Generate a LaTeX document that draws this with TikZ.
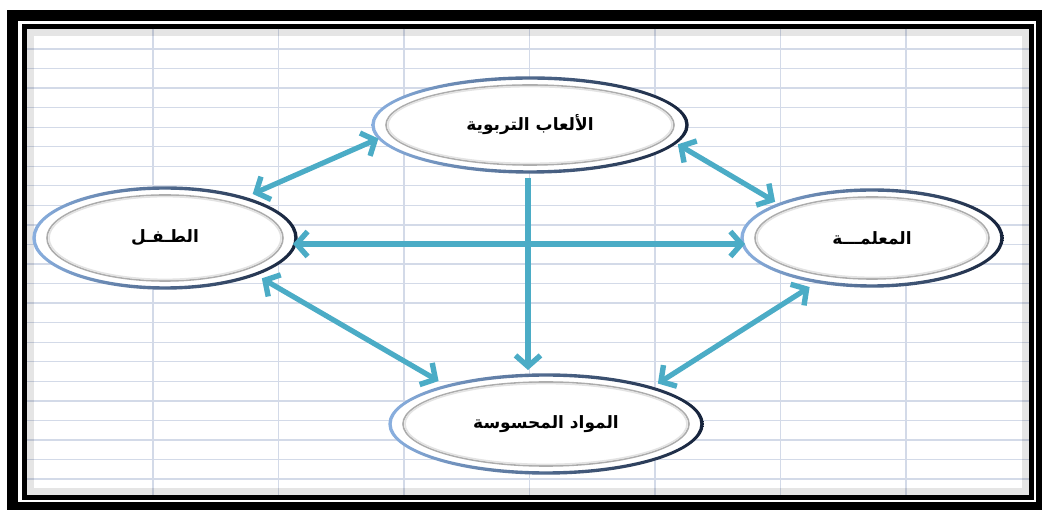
\documentclass[tikz,border=0pt]{standalone}
\usepackage{fontspec}
\usetikzlibrary{arrows.meta,shapes.geometric}
\newfontfamily\arabicfont[Script=Arabic]{DejaVu Sans}
\TeXXeTstate=1
\definecolor{arrowc}{HTML}{4BACC6}
\definecolor{gridc}{HTML}{D3DAE8}
\definecolor{ringL}{HTML}{8AB0E0}
\definecolor{ringM}{HTML}{4F7FBF}
\definecolor{ringR}{HTML}{15223A}
\tikzset{
  oval/.style={ellipse, fill=white, draw=none, inner sep=0pt, outer sep=0pt,
    font=\arabicfont\bfseries\fontsize{17}{20}\selectfont},
  tipb/.tip={Straight Barb[length=11pt,width=25pt,line width=5.4pt]},
  arr/.style={draw=arrowc, line width=5.2pt, tipb-tipb},
  arrone/.style={draw=arrowc, line width=5.2pt, -tipb},
  gridline/.style={draw=gridc, line width=1.3pt}
}
\newcommand\myoval[6]{%
  \node[oval, minimum width={2*#4pt}, minimum height={2*#5pt}] (#1) at (#2,#3) {\raisebox{-3pt}{#6}};
  \begin{scope}[even odd rule]
    \clip (#2,#3) ellipse[x radius=#4+1.7, y radius=#5+1.7]
          (#2,#3) ellipse[x radius=#4-1.7, y radius=#5-1.7];
    \shade[left color=ringL, middle color=ringM, right color=ringR]
      (#2-#4-3,#3-#5-3) rectangle (#2+#4+3,#3+#5+3);
  \end{scope}
  \draw[gray!65, line width=1.6pt] (#2,#3) ellipse[x radius=#4-13, y radius=#5-7];
  \draw[gray!22, line width=1.6pt] (#2,#3) ellipse[x radius=#4-15, y radius=#5-8.6];
}
\begin{document}
\begin{tikzpicture}[x=1pt,y=-1pt]
\useasboundingbox (0,0) rectangle (1042,510);
\fill[white] (0,0) rectangle (1042,510);
% frame
\fill[black] (7,10) rectangle (1042,510);
\fill[white] (18,21) rectangle (1036,502);
\fill[black] (22,24) rectangle (1034,500);
\fill[white] (27,29) rectangle (1029,495);
% grid
\foreach \gx in {153,278.5,404,529.5,655,780.5,906}
  \draw[gridline] (\gx,29) -- (\gx,495);
\foreach \k in {0,...,22}
  \draw[gridline] (27,49+19.55*\k) -- (1029,49+19.55*\k);
% inner shadow
\foreach \i in {0,...,6}
  \draw[black, opacity=0.10, line width=1pt] (27.5+\i,29.5+\i) rectangle (1028.5-\i,494.5-\i);
% ovals
\myoval{top}{530}{125}{157}{47}{\beginR الألعاب التربوية\endR}
\myoval{left}{165}{238}{131}{50}{\beginR الطـفـل\endR}
\myoval{right}{872}{238}{130}{48}{\beginR المعلمـــة\endR}
\myoval{bottom}{546}{424}{156}{49}{\beginR المواد المحسوسة\endR}
% connectors
\draw[arr, shorten <=10pt, shorten >=1pt] (left.27) -- (top.185);
\draw[arr, shorten <=3pt, shorten >=5pt] (top.-7) -- (right.160);
\draw[arr, shorten <=8pt, shorten >=10pt] (left.-22) -- (bottom.159);
\draw[arr, shorten <=10pt, shorten >=8pt] (right.219) -- (bottom.19);
\draw[arr, shorten <=-3pt, shorten >=-3pt] ([yshift=-6pt]left.east) -- ([yshift=-6pt]right.west);
\draw[arrone] ([xshift=-2pt,yshift=-6pt]top.south) -- ([xshift=-2pt,yshift=5pt]top.south |- bottom.north);
\end{tikzpicture}
\end{document}
